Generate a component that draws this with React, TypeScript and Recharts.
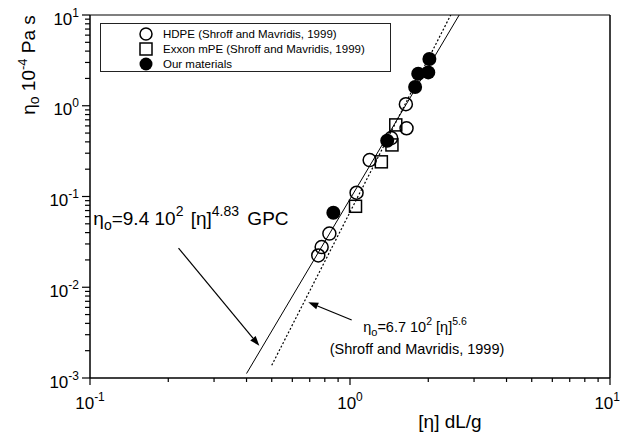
import React from "react"
import {
  ScatterChart,
  Scatter,
  XAxis,
  YAxis,
  ReferenceLine,
  ReferenceDot,
  Legend,
} from "recharts"

const FONT = "Liberation Sans, Arial, Helvetica, sans-serif"

// HDPE (open circles), Exxon mPE (open squares), our materials (filled circles)
const hdpe = [
  { x: 1.64, y: 1.04 },
  { x: 1.65, y: 0.565 },
  { x: 1.44, y: 0.44 },
  { x: 1.19, y: 0.252 },
  { x: 1.06, y: 0.11 },
  { x: 0.833, y: 0.039 },
  { x: 0.778, y: 0.0277 },
  { x: 0.755, y: 0.0224 },
]
const exxon = [
  { x: 1.5, y: 0.615 },
  { x: 1.45, y: 0.37 },
  { x: 1.32, y: 0.241 },
  { x: 1.05, y: 0.078 },
]
const ours = [
  { x: 2.02, y: 3.28 },
  { x: 1.83, y: 2.25 },
  { x: 2.0, y: 2.33 },
  { x: 1.78, y: 1.61 },
  { x: 1.39, y: 0.412 },
  { x: 0.863, y: 0.0662 },
]

// fit lines, end points
const gpcFit = [
  { x: 0.4, y: 0.00112 },
  { x: 2.63, y: 10 },
]
const shroffFit = [
  { x: 0.5, y: 0.00138 },
  { x: 2.44, y: 10 },
]

// annotation arrows (tail -> head) and text anchors
const gpcArrow = [
  { x: 0.219, y: 0.027 },
  { x: 0.448, y: 0.00226 },
]
const shroffArrow = [
  { x: 1.015, y: 0.00436 },
  { x: 0.691, y: 0.00683 },
]
const gpcLabelAt = { x: 0.103, y: 0.0487 }
const shroffLabelAt = { x: 1.81, y: 0.00324 }

const xTicks = [0.1, 0.2, 0.3, 0.4, 0.5, 0.6, 0.7, 0.8, 0.9, 1, 2, 3, 4, 5, 6, 7, 8, 9, 10]
const yTicks = [
  0.001, 0.002, 0.003, 0.004, 0.005, 0.006, 0.007, 0.008, 0.009,
  0.01, 0.02, 0.03, 0.04, 0.05, 0.06, 0.07, 0.08, 0.09,
  0.1, 0.2, 0.3, 0.4, 0.5, 0.6, 0.7, 0.8, 0.9,
  1, 2, 3, 4, 5, 6, 7, 8, 9, 10,
]

const legendLabels = [
  "HDPE (Shroff and Mavridis, 1999)",
  "Exxon mPE (Shroff and Mavridis, 1999)",
  "Our materials",
]

function isDecade(v: number) {
  const l = Math.log10(v)
  return Math.abs(l - Math.round(l)) < 1e-6
}

function XTick(props: any) {
  const { x, y, payload } = props
  const v = payload.value
  const major = isDecade(v)
  const last = v === xTicks[xTicks.length - 1]
  return (
    <g>
      <line x1={x} y1={y} x2={x} y2={y + (major ? 7 : 4)} stroke="#000" strokeWidth={1.2} />
      {major && (
        <text
          x={last ? x + 10 : x}
          y={y + 31}
          textAnchor={last ? "end" : "middle"}
          fontFamily={FONT}
          fontSize={17}
          fill="#000"
        >
          <tspan>10</tspan>
          <tspan dy={-8} fontSize={12}>
            {Math.round(Math.log10(v))}
          </tspan>
        </text>
      )}
    </g>
  )
}

function YTick(props: any) {
  const { x, y, payload } = props
  const v = payload.value
  const major = isDecade(v)
  return (
    <g>
      <line x1={x} y1={y} x2={x - (major ? 8 : 5)} y2={y} stroke="#000" strokeWidth={1.2} />
      {major && (
        <text x={x - 11} y={y + 9.5} textAnchor="end" fontFamily={FONT} fontSize={17} fill="#000">
          <tspan>10</tspan>
          <tspan dy={-8} fontSize={12}>
            {Math.round(Math.log10(v))}
          </tspan>
        </text>
      )}
    </g>
  )
}

function YLabel() {
  return (
    <text
      x={35}
      y={65}
      transform="rotate(-90 35 65)"
      textAnchor="middle"
      fontFamily={FONT}
      fontSize={19}
      fill="#000"
    >
      <tspan>η</tspan>
      <tspan dy={4} fontSize={14}>o</tspan>
      <tspan dy={-4}> 10</tspan>
      <tspan dy={-8} fontSize={13}>-4</tspan>
      <tspan dy={8}> Pa s</tspan>
    </text>
  )
}

function XLabel() {
  return (
    <text x={450} y={428} textAnchor="middle" fontFamily={FONT} fontSize={19} fill="#000">
      [η] dL/g
    </text>
  )
}

const OpenCircle = (p: any) => (
  <circle cx={p.cx} cy={p.cy} r={6.5} fill="none" stroke="#000" strokeWidth={1.5} />
)
const OpenSquare = (p: any) => (
  <rect x={p.cx - 6} y={p.cy - 6} width={12} height={12} fill="none" stroke="#000" strokeWidth={1.5} />
)
const FilledCircle = (p: any) => <circle cx={p.cx} cy={p.cy} r={7} fill="#000" />
const NoDot = () => <g />

function Arrow(p: any) {
  const { x1, y1, x2, y2 } = p
  const a = Math.atan2(y2 - y1, x2 - x1)
  const len = 10
  const w = 3.5
  const bx = x2 - len * Math.cos(a)
  const by = y2 - len * Math.sin(a)
  const nx = -Math.sin(a) * w
  const ny = Math.cos(a) * w
  return (
    <g>
      <line x1={x1} y1={y1} x2={bx} y2={by} stroke="#000" strokeWidth={1.2} />
      <polygon points={`${x2},${y2} ${bx + nx},${by + ny} ${bx - nx},${by - ny}`} fill="#000" />
    </g>
  )
}

function GpcLabel(p: any) {
  return (
    <text x={p.cx} y={p.cy} fontFamily={FONT} fontSize={19} fill="#000">
      <tspan>η</tspan>
      <tspan dy={5} fontSize={14}>o</tspan>
      <tspan dy={-5}>=9.4 10</tspan>
      <tspan dy={-9} fontSize={14}>2</tspan>
      <tspan dy={9} dx={2}> [η]</tspan>
      <tspan dy={-9} fontSize={14}>4.83</tspan>
      <tspan dy={9} dx={3}> GPC</tspan>
    </text>
  )
}

function ShroffLabel(p: any) {
  return (
    <g fontFamily={FONT} fill="#000">
      <text x={p.cx - 2} y={p.cy} textAnchor="middle" fontSize={14.5}>
        <tspan>η</tspan>
        <tspan dy={4} fontSize={11}>o</tspan>
        <tspan dy={-4}>=6.7 10</tspan>
        <tspan dy={-7} fontSize={10.5}>2</tspan>
        <tspan dy={7}> [η]</tspan>
        <tspan dy={-7} fontSize={10.5}>5.6</tspan>
      </text>
      <text x={p.cx} y={p.cy + 22} textAnchor="middle" fontSize={14.5}>
        (Shroff and Mavridis, 1999)
      </text>
    </g>
  )
}

function LegendBox() {
  const markers = [
    <circle cx={8} cy={8} r={6} fill="none" stroke="#000" strokeWidth={1.5} />,
    <rect x={2} y={2} width={12} height={12} fill="none" stroke="#000" strokeWidth={1.5} />,
    <circle cx={8} cy={8} r={6.5} fill="#000" />,
  ]
  return (
    <div
      style={{
        width: 291,
        height: 49,
        border: "1px solid #222",
        boxSizing: "border-box",
        position: "relative",
        background: "#fff",
        fontFamily: FONT,
        fontSize: 11.5,
        color: "#000",
      }}
    >
      {legendLabels.map((label, i) => (
        <div key={label}>
          <svg
            width={16}
            height={16}
            style={{ position: "absolute", left: 37, top: 2 + i * 15 }}
          >
            {markers[i]}
          </svg>
          <span
            style={{
              position: "absolute",
              left: 62,
              top: 3 + i * 15,
              lineHeight: "14px",
              whiteSpace: "nowrap",
            }}
          >
            {label}
          </span>
        </div>
      ))}
    </div>
  )
}

export default function App() {
  return (
    <div style={{ position: "absolute", left: 0, top: 0, background: "#fff" }}>
      <ScatterChart
        width={621}
        height={435}
        margin={{ top: 15, right: 11, bottom: 0, left: 30 }}
      >
        <XAxis
          dataKey="x"
          type="number"
          scale="log"
          domain={[0.1, 10]}
          ticks={xTicks}
          interval={0}
          allowDataOverflow
          height={57}
          tickSize={0}
          tickMargin={0}
          tickLine={false}
          tick={<XTick />}
          axisLine={{ stroke: "#000", strokeWidth: 1.5 }}
          label={<XLabel />}
        />
        <YAxis
          dataKey="y"
          type="number"
          scale="log"
          domain={[0.001, 10]}
          ticks={yTicks}
          interval={0}
          allowDataOverflow
          width={60}
          tickSize={0}
          tickMargin={0}
          tickLine={false}
          tick={<YTick />}
          axisLine={{ stroke: "#000", strokeWidth: 1.5 }}
          label={<YLabel />}
        />
        <ReferenceLine y={10} stroke="#000" strokeWidth={1.2} />
        <ReferenceLine x={10} stroke="#000" strokeWidth={1.5} />
        <Legend
          layout="horizontal"
          verticalAlign="middle"
          align="center"
          content={<LegendBox />}
          wrapperStyle={{ left: 100, top: 23, width: 291, height: 49 }}
        />
        <Scatter
          name="GPC fit"
          data={gpcFit}
          line={{ stroke: "#000", strokeWidth: 1 }}
          shape={<NoDot />}
          legendType="none"
          isAnimationActive={false}
        />
        <Scatter
          name="Shroff fit"
          data={shroffFit}
          line={{ stroke: "#000", strokeWidth: 1.2, strokeDasharray: "2 2" }}
          shape={<NoDot />}
          legendType="none"
          isAnimationActive={false}
        />
        <Scatter name={legendLabels[0]} data={hdpe} shape={OpenCircle} isAnimationActive={false} />
        <Scatter name={legendLabels[1]} data={exxon} shape={OpenSquare} isAnimationActive={false} />
        <Scatter name={legendLabels[2]} data={ours} shape={FilledCircle} isAnimationActive={false} />
        <ReferenceLine segment={gpcArrow} shape={Arrow} />
        <ReferenceLine segment={shroffArrow} shape={Arrow} />
        <ReferenceDot x={gpcLabelAt.x} y={gpcLabelAt.y} r={0} shape={GpcLabel} />
        <ReferenceDot x={shroffLabelAt.x} y={shroffLabelAt.y} r={0} shape={ShroffLabel} />
      </ScatterChart>
    </div>
  )
}
